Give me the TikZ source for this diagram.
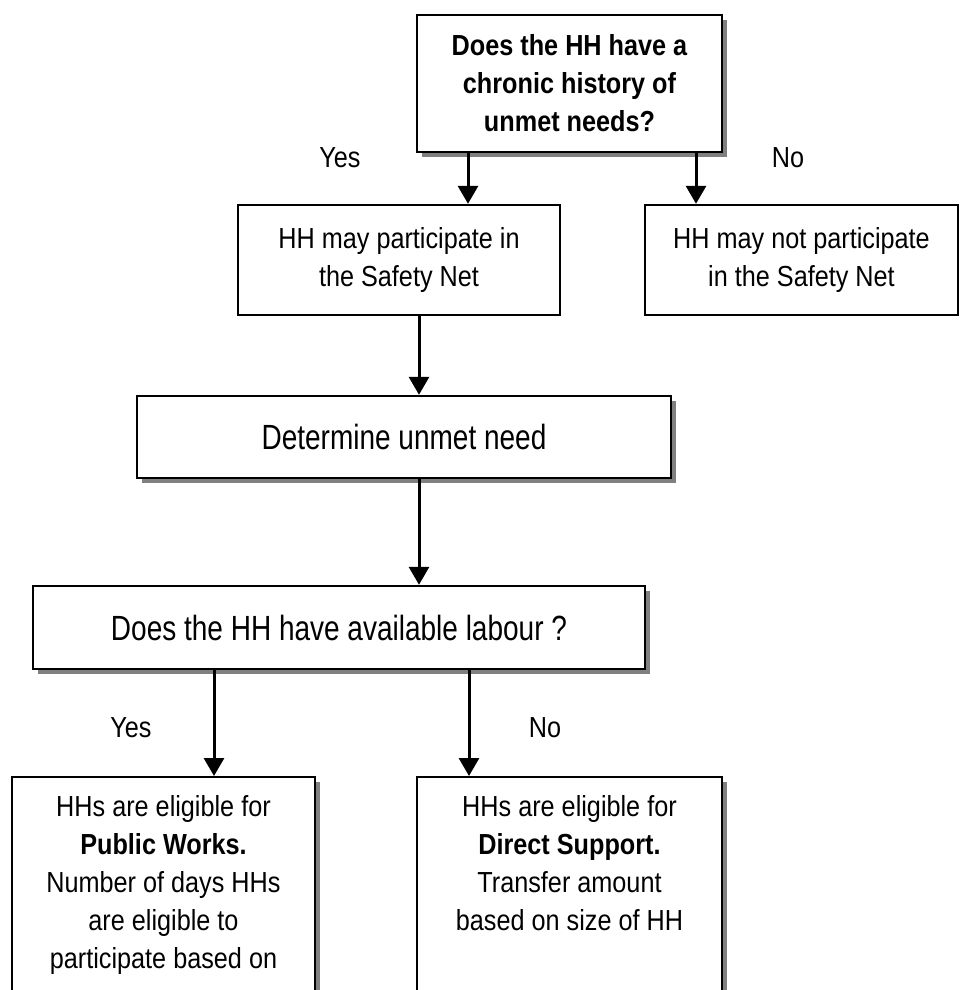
\documentclass[tikz,border=0pt]{standalone}
\usepackage{fontspec}
\setmainfont{Liberation Sans}[FakeStretch=0.87]
\newfontfamily\tallfont{Liberation Sans}[FakeStretch=0.80]
\usetikzlibrary{arrows.meta}
\usetikzlibrary{shadows}

\tikzset{
  box/.style={draw, line width=1.2pt, fill=white, align=center,
    font=\fontsize{14.5}{19}\selectfont},
  shadowbox/.style={box, drop shadow={shadow xshift=2.5pt, shadow yshift=-2.5pt,
    fill=black!50, opacity=1}},
  tallbox/.style={shadowbox, font=\tallfont\fontsize{17.5}{21}\selectfont},
  flow/.style={line width=1.5pt, -{Triangle[width=10pt,length=9pt]}},
  lbl/.style={font=\fontsize{14.5}{19}\selectfont}
}

\begin{document}
\begin{tikzpicture}[x=0.5pt,y=-0.5pt]
\useasboundingbox (0,0) rectangle (962,990);
\node (q1) at (569.5,83.5) [shadowbox, minimum width=152.5pt, minimum height=68.5pt]
  {\bfseries Does the HH have a\\ \bfseries chronic history of\\ \bfseries unmet needs?};
\node (hh) at (399,260) [box, minimum width=161pt, minimum height=55pt]
  {HH may participate in\\ the Safety Net};
\node (hhno) at (801.5,260) [box, minimum width=156.5pt, minimum height=55pt]
  {HH may not participate\\ in the Safety Net};
\node (det) at (404,437) [tallbox, minimum width=267pt, minimum height=41pt]
  {Determine unmet need};
\node (lab) at (339,627.5) [tallbox, minimum width=306pt, minimum height=41.5pt]
  {Does the HH have available labour ?};
\node (pw) at (163.5,776) [shadowbox, anchor=north, minimum width=151.5pt,
  inner ysep=9pt, text depth=40pt]
  {HHs are eligible for\\ \textbf{Public Works.}\\ Number of days HHs\\ are eligible to\\ participate based on};
\node (ds) at (569.5,776) [shadowbox, anchor=north, minimum width=152.5pt,
  inner ysep=9pt, text depth=70pt]
  {HHs are eligible for\\ \textbf{Direct Support.}\\ Transfer amount\\ based on size of HH};
% branch labels
\node (yes1) at (340,158) [lbl] {Yes};
\node (no1) at (788,158) [lbl] {No};
\node (yes2) at (131,728) [lbl] {Yes};
\node (no2) at (545,728) [lbl] {No};
% connectors
\draw [flow] (q1.south -| 468,0) -- (hh.north -| 468,0);
\draw [flow] (q1.south -| 696,0) -- (hhno.north -| 696,0);
\draw [flow] (hh.south -| 419,0) -- (det.north -| 419,0);
\draw [flow] (det.south -| 419,0) -- (lab.north -| 419,0);
\draw [flow] (lab.south -| 214,0) -- (pw.north -| 214,0);
\draw [flow] (lab.south -| 469,0) -- (ds.north -| 469,0);
\end{tikzpicture}
\end{document}
